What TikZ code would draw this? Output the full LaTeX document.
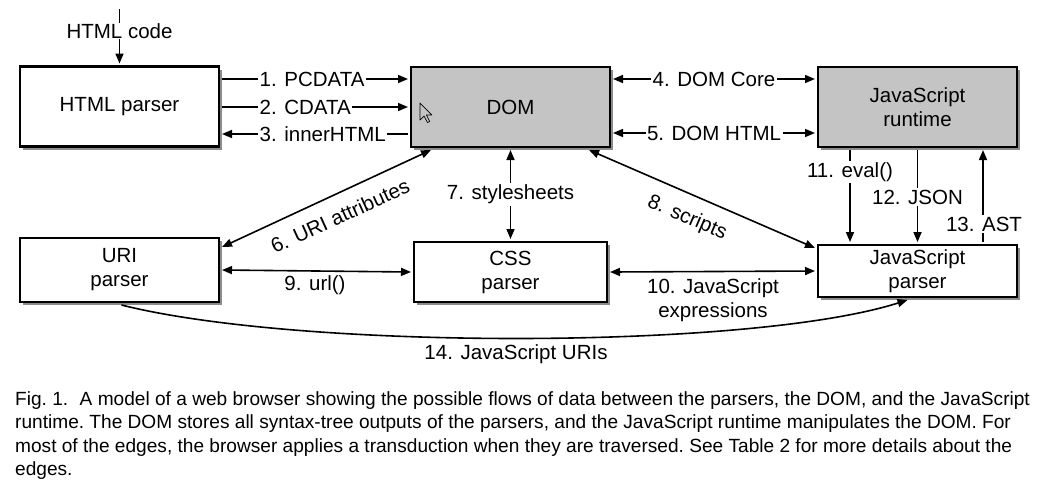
\documentclass[tikz,border=0pt]{standalone}
\usepackage{fontspec}
\setmainfont{Liberation Sans}
\usetikzlibrary{arrows.meta,shadows,calc}
\newcommand{\dfont}{\fontsize{20.5}{24}\selectfont}
\newcommand{\cfont}{\fontsize{19.1}{23}\selectfont\frenchspacing}
\tikzset{
  box/.style={draw, line width=2.4pt, minimum width=199pt, align=center, font=\dfont,
    fill=white, outer sep=3pt,
    drop shadow={shadow xshift=3pt, shadow yshift=-3pt, fill=black!45, opacity=1}},
  graybox/.style={fill=black!23},
  arr/.style={line width=1.6pt, -{Triangle[length=10pt,width=8pt]}},
  darr/.style={line width=1.6pt, {Triangle[length=10pt,width=8pt]}-{Triangle[length=10pt,width=8pt]}},
  lab/.style={fill=white, inner sep=1.5pt, font=\dfont},
  plainlab/.style={inner sep=1pt, font=\dfont, align=center},
  capt/.style={inner sep=0pt, font=\cfont, anchor=base west}
}
\begin{document}
\begin{tikzpicture}[x=1pt,y=-1pt]
\useasboundingbox (0,0) rectangle (1048,488);
% boxes
\node[box,minimum height=80pt] (html) at (119.5,106.5) {HTML parser};
\node[box,graybox,minimum height=80pt] (dom) at (510.5,107) {DOM};
\node[box,graybox,minimum height=80pt] (jsr) at (917.5,107) {JavaScript\\runtime};
\node[box,minimum height=64pt] (uri) at (119.5,270) {URI\\parser};
\node[box,minimum width=193pt,minimum height=60pt] (css) at (510.5,272) {CSS\\parser};
\node[box,minimum height=52pt] (jsp) at (917.5,271) {JavaScript\\parser};
% cursor
\draw[fill=black!23, line width=0.7pt, line join=round] (420,103) -- ++(0,17) -- ++(4,-4) -- ++(3.5,6.5) -- ++(2.2,-1) -- ++(-3.3,-6.5) -- ++(5.5,0) -- cycle;
% HTML code
\coordinate (top) at (119.5,9);
\node[lab,inner sep=0.5pt] (hc) at (119.5,31) {HTML code};
\draw[line width=1.6pt] (top) -- (hc.north);
\draw[arr] (hc.south) -- (html.north);
% 1-3
\draw[arr] (html.east |- 0,79) -- (dom.west |- 0,79);
\node[lab,anchor=west] (l1) at (258,79) {1. PCDATA};
\draw[arr] (html.east |- 0,107) -- (dom.west |- 0,107);
\node[lab,anchor=west] (l2) at (258,107) {2. CDATA};
\draw[arr] (dom.west |- 0,134) -- (html.east |- 0,134);
\node[lab,anchor=west] (l3) at (258,134) {3. innerHTML};
% 4-5
\draw[darr] (dom.east |- 0,79) -- node[lab]{4. DOM Core} (jsr.west |- 0,79);
\draw[darr] (dom.east |- 0,133) -- node[lab]{5. DOM HTML} (jsr.west |- 0,133);
% 6
\draw[darr] (uri.east |- 0,247) -- ([xshift=23pt]dom.south west);
\node[plainlab,rotate=24.5] (l6) at (340,216) {6. URI attributes};
% 7
\draw[darr] (dom.south) -- node[lab]{7. stylesheets} (css.north);
% 8
\draw[darr] ([xshift=-24pt]dom.south east) -- ([yshift=-6pt]jsp.north west);
\node[plainlab,rotate=-23.3] (l8) at (687,218) {8. scripts};
% 9
\draw[darr] (uri.east |- 0,270) -- (css.west |- 0,272);
\node[plainlab] (l9) at (315,285) {9. url()};
% 10
\draw[darr] (css.east |- 0,272) -- (jsp.west |- 0,271);
\node[plainlab] (l10) at (713,300) {10. JavaScript\\expressions};
% 11-13
\draw[arr] (jsr.south -| 850,0) -- (jsp.north -| 850,0);
\node[lab] (l11) at (850,172) {11. eval()};
\draw[arr] (jsr.south) -- (jsp.north);
\node[lab] (l12) at (917.5,197) {12. JSON};
\draw[arr] (jsp.north -| 983,0) -- (jsr.south -| 983,0);
\node[lab] (l13) at (984,224) {13. AST};
% 14
\draw[arr] ([xshift=2pt]uri.south) .. controls (300,350) and (750,350) .. ([xshift=-10pt]jsp.south);
\node[plainlab] (l14) at (516,354) {14. JavaScript URIs};
% caption
\node[capt] (c1) at (15,405) {Fig. 1.\hspace{0.6em}A model of a web browser showing the possible flows of data between the parsers, the DOM, and the JavaScript};
\node[capt] (c2) at (15,428) {runtime. The DOM stores all syntax-tree outputs of the parsers, and the JavaScript runtime manipulates the DOM. For};
\node[capt] (c3) at (15,452) {most of the edges, the browser applies a transduction when they are traversed. See Table 2 for more details about the};
\node[capt] (c4) at (15,475) {edges.};
\end{tikzpicture}
\end{document}
